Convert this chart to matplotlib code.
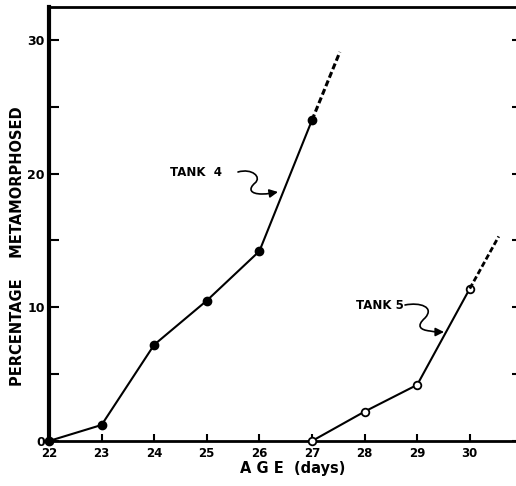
import matplotlib
matplotlib.use("Agg")
import matplotlib.pyplot as plt
from matplotlib.path import Path
from matplotlib.patches import FancyArrowPatch

# ---- data ----
tank4_age = [22, 23, 24, 25, 26, 27]
tank4_pct = [0, 1.2, 7.2, 10.5, 14.2, 24.0]
tank4_ext_age = [27, 27.53]
tank4_ext_pct = [24.0, 29.1]

tank5_age = [27, 28, 29, 30]
tank5_pct = [0, 2.2, 4.2, 11.4]
tank5_ext_age = [30, 30.55]
tank5_ext_pct = [11.4, 15.3]

x_ticks = [22, 23, 24, 25, 26, 27, 28, 29, 30]
y_major = [0, 10, 20, 30]
y_minor = [5, 15, 25]

FONT = "DejaVu Sans"

fig = plt.figure(figsize=(5.16, 4.86), dpi=100)
ax = fig.add_axes([49/516, 45/486, (516-49)/516, (441-7)/486])

# pixel -> data helpers (for annotation squiggles only)
def px(xp, yp):
    return (22 + (xp - 49) / 52.6, (441 - yp) / 13.37)

ax.set_xlim(22, 22 + (516 - 49) / 52.6)
ax.set_ylim(0, (441 - 7) / 13.37)

lw = 1.5
ax.plot(tank4_age, tank4_pct, color="black", lw=lw, marker="o", ms=6,
        mfc="black", mec="black", clip_on=False, zorder=3)
ax.plot(tank4_ext_age, tank4_ext_pct, color="black", lw=2.2,
        dashes=(2.0, 1.0), zorder=3)
ax.plot(tank5_age, tank5_pct, color="black", lw=lw, marker="o", ms=5.5,
        mfc="white", mec="black", mew=1.3, clip_on=False, zorder=3)
ax.plot(tank5_ext_age, tank5_ext_pct, color="black", lw=2.0,
        dashes=(2.0, 1.0), zorder=3)

# spines
ax.spines["left"].set_linewidth(3)
ax.spines["bottom"].set_linewidth(2)
ax.spines["top"].set_linewidth(2)
ax.spines["right"].set_visible(False)

# ticks
ax.set_xticks(x_ticks)
ax.set_xticklabels([str(t) for t in x_ticks], fontsize=8.5, fontweight="bold",
                   family=FONT)
ax.set_yticks(y_major)
ax.set_yticklabels([str(t) for t in y_major], fontsize=9, fontweight="bold",
                   family=FONT)
ax.set_yticks(y_minor, minor=True)
ax.tick_params(axis="x", direction="in", length=5, width=1.5, pad=4,
               top=False)
ax.tick_params(axis="y", which="both", direction="in", length=7, width=1.5,
               pad=3, right=True)
ax.tick_params(axis="y", which="minor", labelleft=False)
# right side tiny ticks
ax.tick_params(axis="y", which="both", right=True)
for t in ax.yaxis.get_major_ticks() + ax.yaxis.get_minor_ticks():
    t.tick2line.set_markersize(3)

# axis labels
ax.text(*px(18, 246), "PERCENTAGE    METAMORPHOSED", rotation=90,
        ha="center", va="center", fontsize=10.5, fontweight="bold",
        family=FONT, clip_on=False)
ax.text(*px(293, 468), "A G E  (days)", ha="center", va="center",
        fontsize=10.5, fontweight="bold", family=FONT, clip_on=False)

# tank labels
ax.text(*px(196, 172), "TANK  4", ha="center", va="center", fontsize=8.5,
        fontweight="bold", family=FONT)
ax.text(*px(380, 305), "TANK 5", ha="center", va="center", fontsize=8.5,
        fontweight="bold", family=FONT)

def squiggle(pts_px):
    verts = [px(*p) for p in pts_px]
    codes = [Path.MOVETO] + [Path.CURVE4] * (len(verts) - 1)
    path = Path(verts, codes)
    arr = FancyArrowPatch(path=path, arrowstyle="-|>,head_length=5,head_width=2.5",
                          color="black", lw=1.2, transform=ax.transData)
    ax.add_patch(arr)

squiggle([(238, 172), (252, 168), (262, 177), (255, 183),
          (248, 189), (250, 194), (262, 194),
          (268, 194), (272, 193), (278, 192)])
squiggle([(405, 305), (420, 302), (435, 307), (425, 318),
          (416, 326), (420, 330), (430, 331),
          (435, 332), (439, 332), (444, 332)])

fig.savefig("out.png", dpi=100)
